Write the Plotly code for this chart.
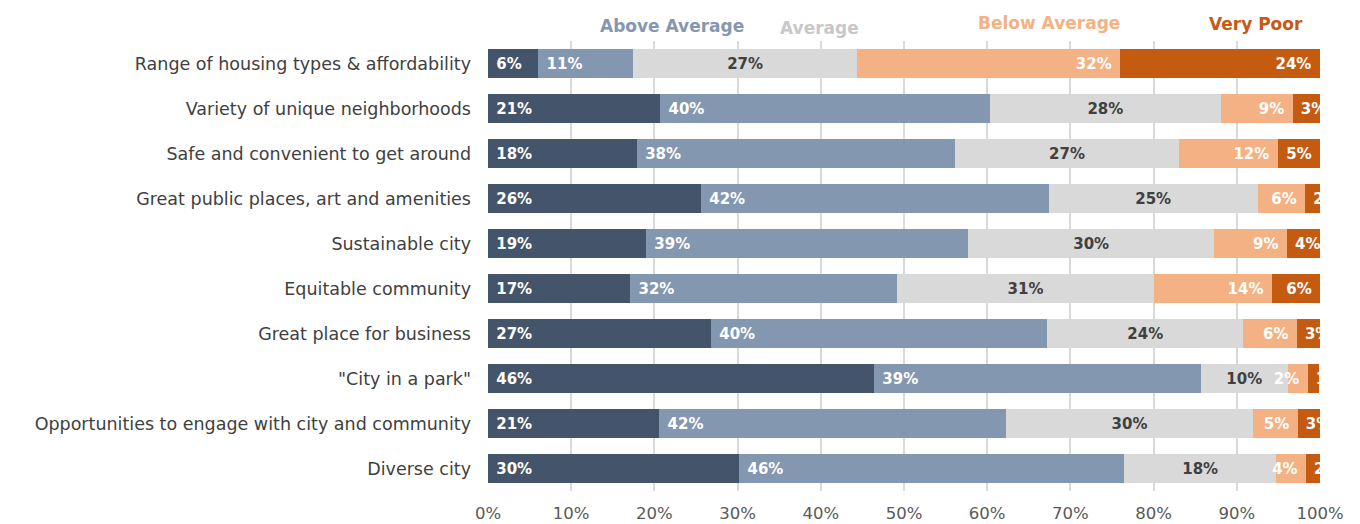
import plotly.graph_objects as go

categories = [
    "Range of housing types & affordability",
    "Variety of unique neighborhoods",
    "Safe and convenient to get around",
    "Great public places, art and amenities",
    "Sustainable city",
    "Equitable community",
    "Great place for business",
    "\"City in a park\"",
    "Opportunities to engage with city and community",
    "Diverse city",
]

series_names = ["Excellent", "Above Average", "Average", "Below Average", "Very Poor"]

excellent     = [6.05, 20.7, 17.9, 25.6, 19.0, 17.1, 26.8, 46.4, 20.6, 30.2]
above_average = [11.4, 39.6, 38.2, 41.8, 38.7, 32.1, 40.4, 39.3, 41.6, 46.3]
average       = [26.9, 27.8, 27.0, 25.1, 29.6, 30.8, 23.6, 10.4, 29.8, 18.2]
below_average = [31.6, 8.6, 11.8, 5.7, 8.7, 14.2, 6.4, 2.4, 5.3, 3.6]
very_poor     = [24.0, 3.3, 5.1, 1.8, 4.0, 5.8, 2.8, 1.4, 2.7, 1.8]

x_ticks = [0, 10, 20, 30, 40, 50, 60, 70, 80, 90, 100]

colors = ["#44546a", "#8497b0", "#d9d9d9", "#f4b183", "#c55a11"]
text_colors = ["white", "white", "#404040", "white", "white"]
NB = "\u00a0"
BAR_FONT = dict(family="DejaVu Sans", size=15, weight="bold")


def pct(v):
    return f"{round(v)}%"


fig = go.Figure()


def add_series(name, vals, col, tcol, anchor, txt):
    fig.add_trace(go.Bar(
        y=categories, x=vals, name=name, orientation="h",
        marker=dict(color=col, line=dict(width=0)),
        text=txt, textposition="inside", insidetextanchor=anchor,
        textangle=0, constraintext="none", cliponaxis=True,
        textfont=dict(color=tcol, **BAR_FONT),
        showlegend=False, hoverinfo="x+y+name",
    ))


add_series(series_names[0], excellent, colors[0], text_colors[0], "start",
           [NB + pct(v) for v in excellent])
add_series(series_names[1], above_average, colors[1], text_colors[1], "start",
           [NB + pct(v) for v in above_average])
add_series(series_names[2], average, colors[2], text_colors[2], "middle",
           [pct(v) for v in average])
add_series(series_names[3], below_average, colors[3], text_colors[3], "end",
           [pct(v) + NB for v in below_average])

# Very Poor: labels right-aligned where they fit, otherwise start at the
# segment start and get clipped by the plot edge (as in the reference).
THRESH = 4.5
vp_big = [v if v >= THRESH else None for v in very_poor]
vp_small = [v if v < THRESH else None for v in very_poor]
add_series(series_names[4], vp_big, colors[4], text_colors[4], "end",
           [pct(v) + NB if v is not None else "" for v in vp_big])
add_series(series_names[4], vp_small, colors[4], text_colors[4], "start",
           [NB + pct(v) if v is not None else "" for v in vp_small])

fig.update_layout(
    barmode="stack",
    bargap=0.335,
    width=1352, height=516,
    margin=dict(l=480, r=40, t=33, b=33),
    paper_bgcolor="white", plot_bgcolor="white",
    font=dict(family="DejaVu Sans", color="#404040"),
    xaxis=dict(
        range=[0, 100], tickvals=x_ticks, ticktext=[f"{t}%" for t in x_ticks],
        showgrid=True, gridcolor="#d9d9d9", gridwidth=1.5, zeroline=False,
        showline=False, ticks="", ticklabelstandoff=10, automargin=False,
        tickfont=dict(size=16.5, color="#595959", family="DejaVu Sans"),
    ),
    yaxis=dict(
        autorange="reversed", showgrid=False, showline=False, ticks="",
        ticklabelstandoff=16, automargin=False,
        tickfont=dict(size=17.5, color="#404040", family="DejaVu Sans"),
    ),
)

legend_items = [
    ("Above Average", "#8497b0", 0.221, 1.034),
    ("Average", "#c8c8c8", 0.399, 1.028),
    ("Below Average", "#f4b183", 0.674, 1.041),
    ("Very Poor", "#c55a11", 0.923, 1.037),
]
for label, col, xp, yp in legend_items:
    fig.add_annotation(
        text=label, xref="paper", yref="paper", x=xp, y=yp,
        xanchor="center", yanchor="middle", showarrow=False,
        font=dict(family="DejaVu Sans", size=17, color=col, weight="bold"),
    )

fig.write_html("out.html")
